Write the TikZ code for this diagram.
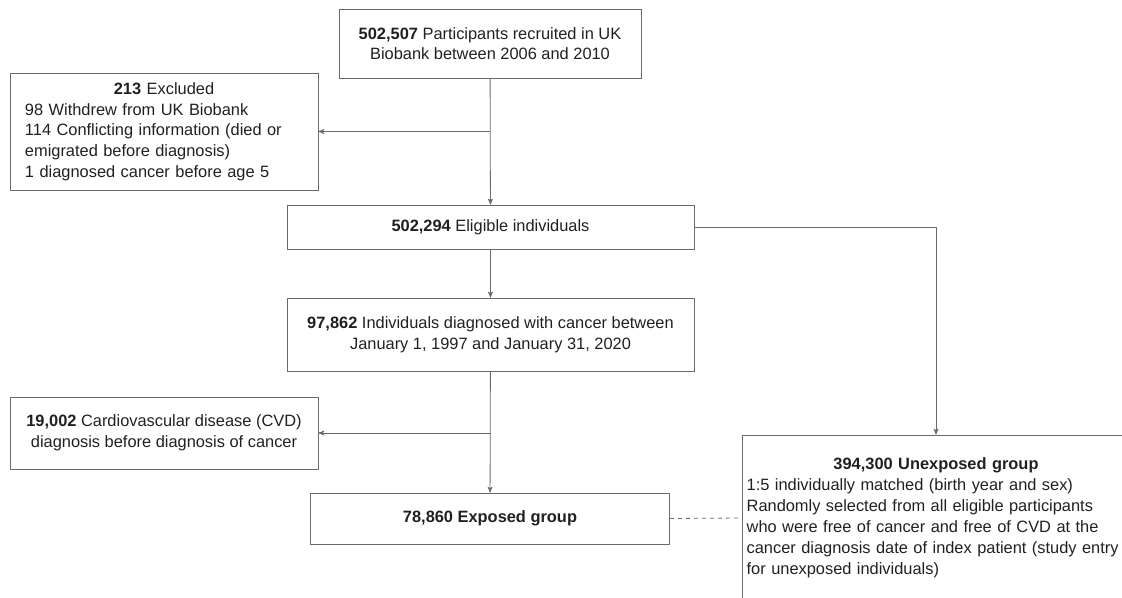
\documentclass[tikz,border=0pt]{standalone}
\usepackage{fontspec}
\setmainfont{Liberation Sans}
\usepackage{tikz}
\usetikzlibrary{positioning}
\usetikzlibrary{arrows}
\definecolor{linegray}{HTML}{6A6A6A}
\definecolor{textgray}{HTML}{231F20}
\tikzset{box/.style={draw=linegray, rectangle, inner sep=0pt, align=center,
    text=textgray, font=\fontsize{12.3}{15.5}\selectfont}}
\begin{document}
\begin{tikzpicture}[x=0.75pt,y=-0.75pt,>=stealth',line width=0.6pt]
   \useasboundingbox (0,0) rectangle (1122,598);
   \node[box,minimum width=226.5pt,minimum height=51.75pt] (recruited) at (490,43.5)
      {\textbf{502,507} Participants recruited in UK\\Biobank between 2006 and 2010};
   \node[box,minimum width=231pt,minimum height=87.75pt,text width=208.5pt,align=left] (excluded) at (164,131.5)
      {\makebox[\linewidth][c]{\textbf{213} Excluded}\\98 Withdrew from UK Biobank\\114 Conflicting information (died or\\emigrated before diagnosis)\\1 diagnosed cancer before age 5};
   \node[box,minimum width=305.25pt,minimum height=33pt] (eligible) at (490.5,227)
      {\textbf{502,294} Eligible individuals};
   \node[box,minimum width=305.25pt,minimum height=54.75pt] (cancer) at (490.5,334.5)
      {\textbf{97,862} Individuals diagnosed with cancer between\\January 1, 1997 and January 31, 2020};
   \node[box,minimum width=231pt,minimum height=54pt] (cvd) at (164,433)
      {\textbf{19,002} Cardiovascular disease (CVD)\\diagnosis before diagnosis of cancer};
   \node[box,minimum width=269.25pt,minimum height=38.25pt] (exposed) at (490,518.5)
      {\textbf{78,860 Exposed group}};
   \node[box,minimum width=291pt,minimum height=124.5pt,text width=284pt,align=left,
         font=\fontsize{12.3}{15.8}\selectfont] (unexposed) at (936,518)
      {\makebox[\linewidth][c]{\textbf{394,300 Unexposed group}}\\1:5 individually matched (birth year and sex)\\Randomly selected from all eligible participants\\who were free of cancer and free of CVD at the\\\mbox{cancer diagnosis date of index patient (study entry}\\for unexposed individuals)};
   \draw[->,draw=linegray] (recruited) -- (eligible);
   \draw[->,draw=linegray] (recruited.south |- excluded.east) -- (excluded.east);
   \draw[->,draw=linegray] (eligible) -- (cancer);
   \draw[->,draw=linegray] (cancer) -- (exposed);
   \draw[->,draw=linegray] (cancer.south |- cvd.east) -- (cvd.east);
   \draw[->,draw=linegray] (eligible.east) -| (unexposed.north);
   \draw[dashed,draw=linegray] (exposed.east) -- (unexposed.west);
\end{tikzpicture}
\end{document}
